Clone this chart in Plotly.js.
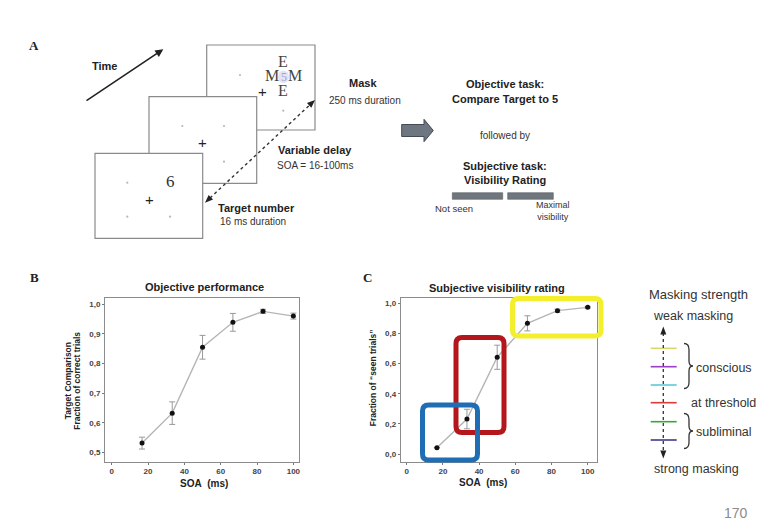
<!DOCTYPE html>
<html>
<head>
<meta charset="utf-8">
<script src="https://cdn.plot.ly/plotly-3.0.1.min.js"></script>
<style>html,body{margin:0;padding:0;background:#fff}#chart{width:772px;height:532px}</style>
</head>
<body>
<div id="chart"></div>
<script>
// ---------- data ----------
const soa = [16.7, 33.3, 50, 66.7, 83.3, 100];
const objectivePerf = [0.532, 0.633, 0.855, 0.939, 0.976, 0.960];
const objectiveErr = [0.02, 0.038, 0.04, 0.03, 0.007, 0.01];
const seenFraction = [0.042, 0.232, 0.642, 0.867, 0.951, 0.973];
const seenErr = [0.0, 0.065, 0.08, 0.05, 0.01, 0.006];
const xTicks = [0, 20, 40, 60, 80, 100];
const yTicksB = [0.5, 0.6, 0.7, 0.8, 0.9, 1.0];
const yTicksC = [0, 0.2, 0.4, 0.6, 0.8, 1.0];
const maskLevels = ['yellow', 'purple', 'cyan', 'red', 'green', 'navy'];

// ---------- helpers (pixel -> paper) ----------
const W = 772, H = 532;
const X = p => p / W;
const Y = p => 1 - p / H;
const FONT = 'Liberation Sans, Arial, sans-serif';
const SERIF = 'Liberation Serif, Times New Roman, serif';

function T(text, px, py, size, o) {
  o = o || {};
  return {
    xref: 'paper', yref: 'paper', x: X(px), y: Y(py), text: text, showarrow: false,
    font: {family: o.family || FONT, size: size, color: o.color || '#222'},
    xanchor: o.xanchor || 'center', yanchor: o.yanchor || 'middle',
    textangle: o.angle || 0, align: o.align || 'center'
  };
}
function P(pts, close) {
  let s = pts.map((p, i) => (i ? 'L' : 'M') + X(p[0]) + ',' + Y(p[1])).join(' ');
  return close ? s + ' Z' : s;
}
function roundRect(x0, y0, x1, y1, r) {
  const p = (x, y) => X(x) + ',' + Y(y);
  return 'M' + p(x0 + r, y0) + ' L' + p(x1 - r, y0) + ' Q' + p(x1, y0) + ' ' + p(x1, y0 + r) +
    ' L' + p(x1, y1 - r) + ' Q' + p(x1, y1) + ' ' + p(x1 - r, y1) +
    ' L' + p(x0 + r, y1) + ' Q' + p(x0, y1) + ' ' + p(x0, y1 - r) +
    ' L' + p(x0, y0 + r) + ' Q' + p(x0, y0) + ' ' + p(x0 + r, y0) + ' Z';
}
function head(tx, ty, fx, fy, len, hw) {
  const dx = tx - fx, dy = ty - fy, L = Math.hypot(dx, dy);
  const ux = dx / L, uy = dy / L;
  const bx = tx - ux * len, by = ty - uy * len;
  return P([[tx, ty], [bx - uy * hw, by + ux * hw], [bx + uy * hw, by - ux * hw]], true);
}

const shapes = [];
const ann = [];

// ---------- panel A ----------
const screens = [[206.7, 45, 315, 130], [149, 96.7, 256.7, 183.3], [95, 153.3, 202.7, 238.3]];
screens.forEach(s => shapes.push({type: 'rect', xref: 'paper', yref: 'paper', x0: X(s[0]), y0: Y(s[1]), x1: X(s[2]), y1: Y(s[3]),
  fillcolor: '#fff', line: {color: '#8a8a8a', width: 1.2}, layer: 'above'}));
const dots = [[240, 75], [283.3, 110.7], [182.3, 126], [224, 126], [224, 161.7], [127.3, 182.7], [127.3, 216.7], [170, 216.7]];
dots.forEach(d => shapes.push({type: 'circle', xref: 'paper', yref: 'paper', x0: X(d[0] - 1.1), x1: X(d[0] + 1.1), y0: Y(d[1] - 1.1), y1: Y(d[1] + 1.1),
  fillcolor: '#b8b8b8', line: {width: 0}}));
// light patch behind the masked 5
shapes.push({type: 'circle', xref: 'paper', yref: 'paper', x0: X(278), x1: X(289), y0: Y(70.5), y1: Y(83), fillcolor: '#e4e4f4', line: {width: 0}});
// dotted SOA arrow
const da = [205, 202.7], db = [315, 100];
shapes.push({type: 'line', xref: 'paper', yref: 'paper', x0: X(da[0] + 5), y0: Y(da[1] - 4.7), x1: X(db[0] - 5), y1: Y(db[1] + 4.7),
  line: {color: '#333', width: 1.4, dash: 'dot'}});
shapes.push({type: 'path', xref: 'paper', yref: 'paper', path: head(db[0], db[1], da[0], da[1], 8, 3.2), fillcolor: '#222', line: {width: 0}});
shapes.push({type: 'path', xref: 'paper', yref: 'paper', path: head(da[0], da[1], db[0], db[1], 8, 3.2), fillcolor: '#222', line: {width: 0}});
// grey block arrow
shapes.push({type: 'path', xref: 'paper', yref: 'paper',
  path: P([[401.7, 124.5], [424, 124.5], [424, 119.3], [433.3, 130.5], [424, 141.7], [424, 136.5], [401.7, 136.5]], true),
  fillcolor: '#6e7781', line: {color: '#454b52', width: 1}});
// visibility rating bars
[[452.3, 502.7], [507.7, 553.3]].forEach(b => shapes.push({type: 'rect', xref: 'paper', yref: 'paper', x0: X(b[0]), x1: X(b[1]), y0: Y(192.7), y1: Y(199.3),
  fillcolor: '#6f767c', line: {color: '#5a6066', width: 0.6}}));

// Time arrow
ann.push({xref: 'paper', yref: 'paper', x: X(163.3), y: Y(49.3), ax: 85 - 163.3, ay: 101.7 - 49.3, text: '', showarrow: true,
  arrowhead: 2, arrowsize: 1, arrowwidth: 1.6, arrowcolor: '#222'});
ann.push(T('<b>Time</b>', 104, 66, 11));
ann.push(T('<b>A</b>', 34, 45, 13, {family: SERIF}));
ann.push(T('+', 262, 92, 15));
ann.push(T('+', 202.3, 142.7, 15));
ann.push(T('+', 149, 199, 15));
ann.push(T('6', 170, 181.7, 17, {family: SERIF, color: '#333'}));
ann.push(T('E', 283.3, 61.7, 16, {family: SERIF, color: '#444'}));
ann.push(T('M', 271.7, 75.5, 16, {family: SERIF, color: '#444'}));
ann.push(T('M', 295, 75.5, 16, {family: SERIF, color: '#444'}));
ann.push(T('E', 283.3, 90, 16, {family: SERIF, color: '#444'}));
ann.push(T('5', 283.5, 76.5, 12, {family: SERIF, color: '#a0a0d8'}));
ann.push(T('<b>Mask</b>', 363, 83, 11));
ann.push(T('250 ms duration', 365, 100, 10, {color: '#333'}));
ann.push(T('<b>Variable delay</b>', 315, 150, 11));
ann.push(T('SOA = 16-100ms', 315, 165, 10, {color: '#333'}));
ann.push(T('<b>Target number</b>', 256.5, 207.7, 11));
ann.push(T('16 ms duration', 252.5, 221.7, 10, {color: '#333'}));
ann.push(T('<b>Objective task:</b>', 505, 84, 11));
ann.push(T('<b>Compare Target to 5</b>', 505, 99, 11));
ann.push(T('followed by', 505, 135, 10, {color: '#333'}));
ann.push(T('<b>Subjective task:</b>', 505, 166, 11));
ann.push(T('<b>Visibility Rating</b>', 505, 180, 11));
ann.push(T('Not seen', 453.5, 209, 9.5, {color: '#333'}));
ann.push(T('Maximal<br>visibility', 553, 210.5, 9, {color: '#333'}));

// ---------- panels B and C labels ----------
ann.push(T('<b>B</b>', 34, 277, 13, {family: SERIF}));
ann.push(T('<b>C</b>', 367, 277, 13, {family: SERIF}));
ann.push(T('<b>Objective performance</b>', 204, 287.3, 11));
ann.push(T('<b>Subjective visibility rating</b>', 496.7, 288.3, 11));
ann.push(T('<b>Target Comparison</b>', 68.3, 381, 8.5, {angle: -90}));
ann.push(T('<b>Fraction of correct trials</b>', 76.7, 381, 8.5, {angle: -90}));
ann.push(T('<b>Fraction of \u201cseen trials\u201d</b>', 373.3, 378, 8.5, {angle: -90}));
ann.push(T('<b>SOA&nbsp;&nbsp;(ms)</b>', 204, 483, 10));
ann.push(T('<b>SOA&nbsp;&nbsp;(ms)</b>', 483.3, 482.5, 10));

// highlight boxes in C
shapes.push({type: 'path', xref: 'paper', yref: 'paper', path: roundRect(512.5, 298.5, 601, 336, 6), line: {color: '#f3ef2c', width: 5}});
shapes.push({type: 'path', xref: 'paper', yref: 'paper', path: roundRect(456, 337.5, 504, 432.5, 6), line: {color: '#b3171c', width: 5}});
shapes.push({type: 'path', xref: 'paper', yref: 'paper', path: roundRect(422.5, 405, 477.5, 460, 6), line: {color: '#1f6db3', width: 5}});

// ---------- masking strength legend ----------
ann.push(T('Masking strength', 698.3, 294, 13, {color: '#333'}));
ann.push(T('weak masking', 693.3, 316, 12.5, {color: '#333'}));
ann.push(T('strong masking', 696.7, 469.3, 12.5, {color: '#333'}));
ann.push(T('conscious', 723.5, 368.3, 12.5, {color: '#333'}));
ann.push(T('at threshold', 723.5, 402.7, 12.5, {color: '#333'}));
ann.push(T('subliminal', 723.5, 431.7, 12.5, {color: '#333'}));
ann.push(T('170', 736, 513, 14, {color: '#8a8a8a'}));
const levelColor = {yellow: '#d9d96a', purple: '#9a3fc4', cyan: '#5cc8d6', red: '#dd3a3a', green: '#3aa63a', navy: '#3a3a8f'};
const levelY = [348.3, 366.7, 385, 402.7, 421.7, 440];
maskLevels.forEach((m, i) => shapes.push({type: 'line', xref: 'paper', yref: 'paper', x0: X(650.7), x1: X(676.7), y0: Y(levelY[i]), y1: Y(levelY[i]),
  line: {color: levelColor[m], width: 1.6}}));
shapes.push({type: 'line', xref: 'paper', yref: 'paper', x0: X(663.3), x1: X(663.3), y0: Y(333), y1: Y(452), line: {color: '#333', width: 1.3, dash: 'dot'}});
shapes.push({type: 'path', xref: 'paper', yref: 'paper', path: head(663.3, 326.5, 663.3, 340, 8, 3), fillcolor: '#222', line: {width: 0}});
shapes.push({type: 'path', xref: 'paper', yref: 'paper', path: head(663.3, 458.5, 663.3, 445, 8, 3), fillcolor: '#222', line: {width: 0}});
function brace(x, y0, y1) {
  const m = (y0 + y1) / 2, p = (a, b) => X(a) + ',' + Y(b);
  return 'M' + p(x, y0) + ' Q' + p(x + 5, y0) + ' ' + p(x + 5, y0 + 6) + ' L' + p(x + 5, m - 5) +
    ' Q' + p(x + 5, m) + ' ' + p(x + 9, m) + ' Q' + p(x + 5, m) + ' ' + p(x + 5, m + 5) +
    ' L' + p(x + 5, y1 - 6) + ' Q' + p(x + 5, y1) + ' ' + p(x, y1);
}
shapes.push({type: 'path', xref: 'paper', yref: 'paper', path: brace(684, 343.5, 388.5), line: {color: '#333', width: 1.3}});
shapes.push({type: 'path', xref: 'paper', yref: 'paper', path: brace(684, 413.5, 448.5), line: {color: '#333', width: 1.3}});

// ---------- traces ----------
const traces = [
  {x: soa, y: objectivePerf, xaxis: 'x', yaxis: 'y', mode: 'lines+markers', type: 'scatter',
    line: {color: '#b5b5b5', width: 1.4}, marker: {color: '#111', size: 5},
    error_y: {type: 'data', array: objectiveErr, visible: true, color: '#999', thickness: 1, width: 3}},
  {x: soa, y: seenFraction, xaxis: 'x2', yaxis: 'y2', mode: 'lines+markers', type: 'scatter',
    line: {color: '#b5b5b5', width: 1.4}, marker: {color: '#111', size: 5},
    error_y: {type: 'data', array: seenErr, visible: true, color: '#999', thickness: 1, width: 3}}
];

const axBase = {showgrid: false, zeroline: false, showline: true, mirror: true, linecolor: '#8c8c8c', linewidth: 1,
  ticks: 'outside', ticklen: 2, tickcolor: '#777', tickwidth: 1,
  tickfont: {family: FONT, size: 8, color: '#444', weight: 'bold'}, fixedrange: true};

const layout = {
  width: W, height: H, margin: {l: 0, r: 0, t: 0, b: 0}, paper_bgcolor: '#fff', plot_bgcolor: '#fff',
  showlegend: false, separators: ',.',
  xaxis: Object.assign({}, axBase, {domain: [X(105), X(299)], range: [-3.7, 103.1], tickvals: xTicks, anchor: 'y'}),
  yaxis: Object.assign({}, axBase, {domain: [Y(461.5), Y(298)], range: [0.470, 1.021], tickvals: yTicksB, tickformat: '.1f', anchor: 'x'}),
  xaxis2: Object.assign({}, axBase, {domain: [X(400.7), X(597.3)], range: [-3.3, 105.3], tickvals: xTicks, anchor: 'y2'}),
  yaxis2: Object.assign({}, axBase, {domain: [Y(461.7), Y(298.3)], range: [-0.051, 1.033], tickvals: yTicksC, tickformat: '.1f', anchor: 'x2'}),
  shapes: shapes, annotations: ann
};

Plotly.newPlot('chart', traces, layout, {displayModeBar: false, staticPlot: true});
</script>
</body>
</html>
